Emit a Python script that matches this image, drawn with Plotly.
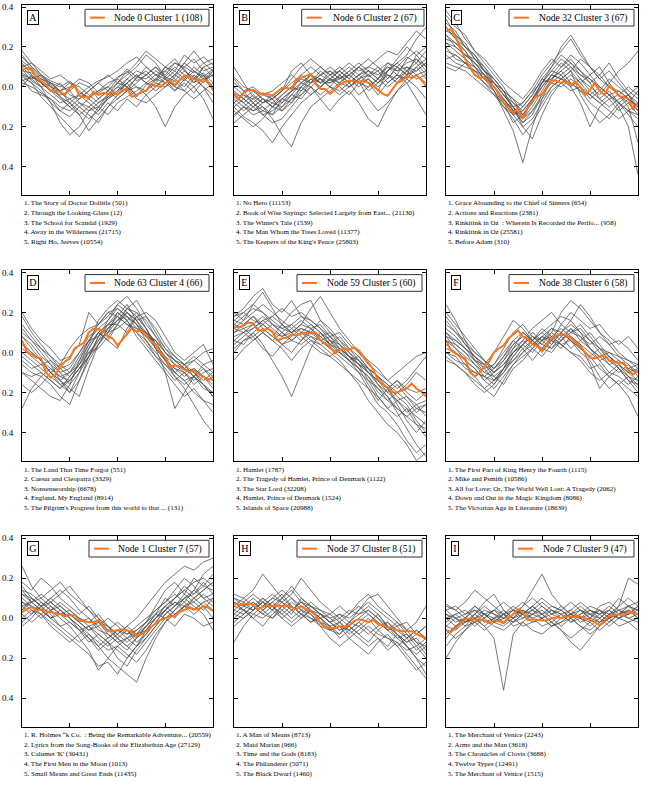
import plotly.graph_objects as go

# ---------------- data ----------------
ORANGE_X = [i * 2.5 for i in range(41)]   # position in text (%)
GRAY_X = [i * 5 for i in range(21)]

LETTERS = ["A", "B", "C", "D", "E", "F", "G", "H", "I"]
NODE_LABELS = ["Node 0 Cluster 1 (108)", "Node 6 Cluster 2 (67)", "Node 32 Cluster 3 (67)",
               "Node 63 Cluster 4 (66)", "Node 59 Cluster 5 (60)", "Node 38 Cluster 6 (58)",
               "Node 1 Cluster 7 (57)", "Node 37 Cluster 8 (51)", "Node 7 Cluster 9 (47)"]

A_TITLES = ["1. The Story of Doctor Dolittle (501)", "2. Through the Looking-Glass (12)",
            "3. The School for Scandal (1929)", "4. Away in the Wilderness (21715)",
            "5. Right Ho, Jeeves (10554)"]
B_TITLES = ["1. No Hero (11153)", "2. Book of Wise Sayings: Selected Largely from East... (21130)",
            "3. The Winter's Tale (1539)", "4. The Man Whom the Trees Loved (11377)",
            "5. The Keepers of the King's Peace (25803)"]
C_TITLES = ["1. Grace Abounding to the Chief of Sinners (654)", "2. Actions and Reactions (2381)",
            "3. Rinkitink in Oz  : Wherein Is Recorded the Perilo... (958)", "4. Rinkitink in Oz (25581)",
            "5. Before Adam (310)"]
D_TITLES = ["1. The Land That Time Forgot (551)", "2. Caesar and Cleopatra (3329)",
            "3. Nonsenseorship (6678)", "4. England, My England (8914)",
            "5. The Pilgrim's Progress from this world to that ... (131)"]
E_TITLES = ["1. Hamlet (1787)", "2. The Tragedy of Hamlet, Prince of Denmark (1122)",
            "3. The Star Lord (32208)", "4. Hamlet, Prince of Denmark (1524)",
            "5. Islands of Space (20988)"]
F_TITLES = ["1. The First Part of King Henry the Fourth (1115)", "2. Mike and Psmith (10586)",
            "3. All for Love; Or, The World Well Lost: A Tragedy (2062)",
            "4. Down and Out in the Magic Kingdom (8086)", "5. The Victorian Age in Literature (18639)"]
G_TITLES = ["1. R. Holmes “k Co.  : Being the Remarkable Adventure... (20559)",
            "2. Lyrics from the Song-Books of the Elizabethan Age (27129)", "3. Calumet 'K' (30431)",
            "4. The First Men in the Moon (1013)", "5. Small Means and Great Ends (11435)"]
H_TITLES = ["1. A Man of Means (8713)", "2. Maid Marian (966)", "3. Time and the Gods (8183)",
            "4. The Philanderer (5071)", "5. The Black Dwarf (1460)"]
I_TITLES = ["1. The Merchant of Venice (2243)", "2. Arms and the Man (3618)",
            "3. The Chronicles of Clovis (3688)", "4. Twelve Types (12491)",
            "5. The Merchant of Venice (1515)"]

A_ORANGE = [0.085, 0.095, 0.09, 0.045, 0.03, 0.01, -0.02, -0.02, -0.025, -0.04, -0.005, 0.01, -0.045, -0.05,
            -0.055, -0.025, -0.04, -0.03, -0.035, -0.025, -0.04, -0.02, -0.01, -0.05, -0.04, -0.025, -0.02,
            0.015, 0.005, 0.0, 0.02, 0.03, 0.01, 0.035, 0.055, 0.05, 0.04, 0.03, 0.04, 0.02, -0.01]
A_GRAY = [
    [0.15, 0.10, 0.05, 0.02, -0.03, -0.06, -0.04, 0.00, 0.03, 0.05, 0.08, 0.12, 0.15, 0.10, 0.06, 0.08, 0.12, 0.10, 0.14, 0.08, 0.10],
    [0.12, 0.06, 0.00, -0.08, -0.18, -0.24, -0.20, -0.12, -0.08, -0.05, 0.00, -0.02, 0.05, 0.04, 0.08, 0.05, 0.10, 0.06, 0.04, 0.07, 0.02],
    [0.05, 0.02, -0.05, -0.10, -0.15, -0.20, -0.25, -0.18, -0.10, -0.06, -0.03, 0.02, -0.05, 0.01, 0.04, 0.02, 0.06, 0.03, 0.08, 0.05, 0.09],
    [0.08, 0.07, 0.04, 0.02, 0.00, 0.03, -0.02, -0.06, -0.10, -0.04, 0.02, 0.06, 0.10, 0.16, 0.12, 0.05, 0.03, 0.08, 0.05, 0.00, -0.04],
    [0.18, 0.12, 0.08, 0.04, 0.06, 0.02, -0.03, -0.05, -0.02, 0.02, 0.04, 0.09, 0.05, 0.08, 0.03, 0.10, 0.08, 0.16, 0.12, 0.15, 0.11],
    [0.02, 0.00, -0.03, -0.06, -0.12, -0.15, -0.10, -0.14, -0.18, -0.10, -0.06, -0.02, 0.00, -0.04, -0.10, -0.20, -0.10, -0.04, 0.00, -0.06, -0.16],
    [0.10, 0.05, 0.03, 0.00, -0.05, -0.08, -0.12, -0.16, -0.12, -0.05, -0.02, 0.04, 0.08, 0.06, 0.02, 0.00, 0.05, 0.10, 0.07, 0.12, 0.08],
    [0.06, 0.04, 0.06, 0.03, 0.01, -0.02, -0.08, -0.12, -0.10, -0.14, -0.08, -0.05, -0.02, 0.02, 0.06, 0.04, -0.02, 0.02, -0.03, 0.03, 0.06],
    [0.13, 0.09, 0.04, 0.01, -0.05, -0.10, -0.14, -0.22, -0.16, -0.10, -0.04, 0.00, -0.06, -0.08, -0.04, 0.00, 0.03, -0.02, 0.04, 0.10, 0.05],
    [0.09, 0.03, 0.00, 0.02, -0.02, 0.00, 0.04, 0.02, -0.03, 0.00, 0.05, 0.07, 0.12, 0.18, 0.14, 0.10, 0.06, 0.12, 0.18, 0.12, 0.14],
    [0.04, -0.02, -0.04, -0.06, -0.10, -0.12, -0.08, -0.10, -0.14, -0.08, -0.12, -0.06, -0.10, -0.04, 0.00, 0.05, 0.00, -0.02, -0.06, -0.02, 0.02],
    [0.11, 0.08, 0.02, -0.02, -0.04, -0.02, 0.02, 0.00, -0.06, -0.02, 0.02, 0.08, 0.03, 0.06, 0.10, 0.06, 0.12, 0.09, 0.02, 0.06, 0.00],
    [0.07, 0.04, 0.00, -0.04, -0.08, -0.06, -0.10, -0.06, -0.02, 0.00, -0.04, 0.02, 0.06, 0.02, 0.00, 0.04, 0.08, 0.04, 0.00, 0.04, 0.06],
    [0.00, 0.06, 0.02, -0.02, 0.02, -0.04, -0.06, -0.02, 0.02, 0.06, 0.02, 0.00, 0.04, 0.10, 0.06, 0.02, -0.02, 0.04, 0.10, 0.06, -0.02],
    [0.16, 0.10, 0.06, 0.00, -0.02, -0.08, -0.14, -0.10, -0.06, -0.02, 0.04, 0.00, -0.04, -0.02, 0.02, 0.08, 0.04, 0.00, 0.06, 0.02, 0.08],
    [0.03, 0.05, 0.02, -0.02, -0.06, -0.10, -0.06, -0.02, 0.02, -0.02, -0.06, -0.02, 0.02, 0.06, 0.10, 0.04, 0.00, 0.06, 0.02, 0.10, 0.12],
    [0.10, 0.12, 0.06, 0.02, -0.02, 0.02, 0.00, -0.04, -0.08, -0.04, 0.00, 0.04, 0.00, -0.02, 0.04, 0.10, 0.14, 0.08, 0.04, 0.00, -0.08],
    [0.06, 0.02, -0.02, -0.08, -0.12, -0.08, -0.04, -0.08, -0.12, -0.06, -0.02, 0.02, 0.06, 0.02, -0.02, 0.02, 0.06, 0.12, 0.08, 0.04, 0.08],
]

B_ORANGE = [-0.035, -0.06, -0.03, -0.015, -0.015, -0.03, -0.035, -0.035, -0.045, -0.025, -0.005, -0.005, -0.01,
            0.035, 0.045, 0.055, 0.065, 0.015, -0.01, -0.01, -0.035, -0.015, 0.01, 0.025, 0.03, 0.03, 0.02, 0.03,
            0.02, 0.005, -0.015, -0.035, -0.045, -0.01, 0.02, 0.03, 0.055, 0.045, 0.06, 0.035, 0.005]
B_GRAY = [
    [0.10, 0.02, -0.05, -0.08, -0.06, -0.02, 0.04, 0.10, 0.14, 0.10, 0.06, 0.08, 0.12, 0.08, 0.10, 0.14, 0.18, 0.16, 0.22, 0.28, 0.24],
    [-0.10, -0.15, -0.18, -0.22, -0.28, -0.20, -0.14, -0.08, -0.04, 0.00, 0.04, 0.02, 0.06, 0.10, 0.05, 0.08, 0.12, 0.10, 0.15, 0.12, 0.18],
    [-0.05, -0.08, -0.12, -0.10, -0.16, -0.24, -0.30, -0.18, -0.10, -0.06, -0.02, 0.02, 0.00, 0.04, -0.02, 0.02, 0.06, 0.04, 0.10, 0.08, 0.12],
    [-0.18, -0.14, -0.10, -0.06, -0.08, -0.04, 0.00, 0.04, 0.02, 0.06, 0.03, 0.05, 0.00, 0.03, -0.06, -0.12, -0.08, -0.02, 0.04, 0.00, -0.06],
    [0.00, -0.04, -0.06, -0.03, -0.06, -0.02, 0.08, 0.12, 0.06, 0.02, 0.06, 0.10, 0.06, 0.02, 0.04, -0.02, 0.08, 0.14, 0.20, 0.16, 0.10],
    [-0.08, -0.12, -0.08, -0.14, -0.12, -0.08, -0.04, -0.06, 0.00, -0.06, -0.12, -0.06, -0.02, -0.08, -0.16, -0.20, -0.10, -0.02, 0.02, -0.06, -0.14],
    [-0.12, -0.16, -0.20, -0.16, -0.10, -0.06, -0.02, 0.02, 0.06, 0.04, 0.02, 0.06, 0.10, 0.06, 0.08, 0.06, 0.10, 0.08, 0.12, 0.14, 0.10],
    [0.05, 0.00, -0.02, -0.06, -0.10, -0.12, -0.06, 0.00, -0.04, 0.00, 0.04, 0.08, 0.04, 0.10, 0.14, 0.10, 0.04, 0.10, 0.06, 0.10, 0.04],
    [-0.03, -0.06, -0.10, -0.14, -0.18, -0.16, -0.10, -0.04, 0.02, 0.08, 0.04, 0.00, -0.04, 0.02, 0.06, 0.02, 0.08, 0.12, 0.16, 0.24, 0.30],
    [-0.15, -0.10, -0.12, -0.08, -0.04, -0.08, -0.02, 0.00, 0.04, 0.02, 0.08, 0.04, 0.08, 0.12, 0.08, 0.04, 0.00, 0.04, 0.08, 0.04, 0.06],
    [-0.06, -0.10, -0.06, -0.10, -0.14, -0.10, -0.04, 0.02, 0.00, -0.04, 0.00, -0.02, 0.02, -0.04, 0.00, 0.04, 0.10, 0.06, 0.02, 0.06, 0.08],
    [0.02, -0.02, -0.08, -0.12, -0.14, -0.06, -0.02, 0.06, 0.10, 0.06, 0.10, 0.06, 0.02, 0.06, 0.10, 0.08, 0.02, 0.06, 0.14, 0.18, 0.14],
    [-0.04, -0.08, -0.04, -0.08, -0.06, -0.02, 0.02, 0.06, 0.02, 0.06, 0.08, 0.04, 0.06, 0.02, 0.00, 0.04, 0.08, 0.12, 0.08, 0.12, 0.06],
    [-0.10, -0.06, -0.10, -0.06, -0.10, -0.04, 0.00, -0.02, 0.04, 0.00, 0.04, 0.08, 0.04, 0.00, 0.04, 0.00, 0.04, 0.10, 0.06, 0.08, 0.12],
    [0.04, -0.02, 0.00, -0.04, -0.02, 0.02, 0.06, 0.02, 0.06, 0.10, 0.06, 0.02, 0.06, 0.10, 0.06, 0.02, 0.06, 0.02, 0.08, 0.14, 0.08],
    [-0.14, -0.10, -0.14, -0.12, -0.08, -0.10, -0.06, -0.04, 0.00, 0.04, 0.00, 0.06, 0.02, 0.06, 0.02, -0.04, 0.02, 0.06, 0.04, 0.10, 0.14],
    [-0.02, -0.06, -0.02, -0.06, -0.10, -0.06, -0.08, 0.00, 0.06, 0.02, 0.02, 0.04, 0.08, 0.04, 0.08, 0.04, 0.12, 0.08, 0.10, 0.06, 0.02],
    [-0.08, -0.04, -0.08, -0.04, -0.06, -0.12, -0.08, -0.02, 0.02, 0.04, 0.00, -0.04, 0.00, 0.04, 0.06, 0.10, 0.06, 0.02, 0.06, 0.16, 0.20],
]

C_ORANGE = [0.28, 0.29, 0.25, 0.19, 0.14, 0.10, 0.06, 0.045, 0.05, 0.02, 0.0, -0.03, -0.075, -0.105, -0.13, -0.11,
            -0.16, -0.11, -0.07, -0.045, -0.04, 0.0, 0.035, 0.03, 0.02, 0.03, 0.01, 0.025, 0.0, -0.04, -0.015, 0.02,
            -0.02, -0.04, 0.005, -0.015, -0.045, -0.05, -0.06, -0.115, -0.08]
C_GRAY = [
    [0.36, 0.30, 0.26, 0.18, 0.12, 0.06, 0.00, -0.08, -0.14, -0.06, 0.02, 0.10, 0.16, 0.12, 0.08, 0.04, 0.00, -0.04, -0.08, -0.04, -0.10],
    [0.22, 0.18, 0.14, 0.10, 0.04, -0.02, -0.12, -0.22, -0.38, -0.20, -0.06, 0.04, 0.10, 0.14, 0.08, 0.02, -0.06, -0.02, -0.08, -0.12, -0.16],
    [0.30, 0.24, 0.20, 0.14, 0.10, 0.02, -0.04, -0.10, -0.18, -0.12, -0.04, 0.04, 0.08, 0.02, -0.02, -0.08, -0.12, -0.16, -0.10, -0.20, -0.44],
    [0.16, 0.12, 0.10, 0.08, 0.06, 0.00, -0.06, -0.12, -0.08, -0.02, 0.06, 0.12, 0.18, 0.24, 0.16, 0.10, 0.04, 0.00, -0.02, -0.06, -0.12],
    [0.26, 0.20, 0.16, 0.12, 0.06, -0.02, -0.10, -0.14, -0.20, -0.16, -0.08, 0.00, 0.04, 0.08, -0.04, -0.12, -0.18, -0.14, -0.08, -0.14, -0.20],
    [0.38, 0.32, 0.24, 0.18, 0.14, 0.08, 0.02, -0.02, -0.06, 0.00, 0.08, 0.14, 0.10, 0.16, 0.12, 0.06, 0.10, 0.02, 0.08, 0.12, 0.18],
    [0.12, 0.10, 0.08, 0.04, 0.00, -0.04, -0.10, -0.16, -0.24, -0.18, -0.10, -0.02, 0.02, 0.06, 0.02, -0.04, -0.08, -0.12, -0.16, -0.12, -0.08],
    [0.24, 0.22, 0.16, 0.14, 0.08, 0.04, -0.02, -0.06, -0.10, -0.04, 0.04, 0.10, 0.20, 0.26, 0.18, 0.10, 0.04, 0.08, 0.02, -0.04, 0.00],
    [0.20, 0.14, 0.12, 0.06, 0.02, -0.04, -0.08, -0.18, -0.14, -0.08, 0.00, 0.06, 0.04, 0.00, -0.08, -0.20, -0.10, -0.06, -0.12, -0.08, -0.14],
    [0.32, 0.28, 0.20, 0.16, 0.10, 0.04, -0.02, -0.12, -0.16, -0.10, -0.02, 0.06, 0.12, 0.08, 0.14, 0.10, 0.06, 0.12, 0.04, -0.02, -0.06],
    [0.10, 0.08, 0.12, 0.10, 0.04, 0.00, -0.08, -0.10, -0.20, -0.26, -0.14, -0.04, 0.02, -0.02, 0.00, -0.06, -0.02, -0.06, -0.04, -0.10, -0.28],
    [0.28, 0.26, 0.22, 0.14, 0.08, 0.00, -0.06, -0.14, -0.12, -0.06, 0.02, 0.08, 0.06, 0.10, 0.04, 0.00, -0.04, 0.02, -0.04, -0.08, -0.02],
    [0.26, 0.22, 0.18, 0.10, 0.06, 0.02, -0.04, -0.08, -0.12, -0.06, 0.00, 0.06, 0.04, 0.08, 0.02, 0.06, 0.00, -0.04, -0.02, -0.06, -0.10],
    [0.18, 0.16, 0.12, 0.08, 0.02, -0.02, -0.08, -0.14, -0.10, -0.04, 0.04, 0.02, 0.06, 0.00, 0.04, -0.02, -0.06, -0.10, -0.06, -0.04, -0.08],
    [0.34, 0.26, 0.20, 0.16, 0.08, 0.04, -0.02, -0.06, -0.14, -0.08, 0.02, 0.08, 0.14, 0.10, 0.06, 0.02, 0.06, 0.00, -0.04, 0.00, -0.04],
    [0.14, 0.16, 0.12, 0.08, 0.04, 0.02, -0.04, -0.10, -0.16, -0.12, -0.06, 0.00, 0.04, 0.02, -0.02, -0.04, 0.00, -0.04, -0.08, -0.12, -0.14],
    [0.22, 0.20, 0.16, 0.12, 0.08, 0.02, -0.02, -0.10, -0.08, -0.02, 0.02, 0.04, 0.08, 0.12, 0.06, 0.04, -0.02, 0.04, 0.00, -0.04, -0.12],
    [0.30, 0.24, 0.18, 0.12, 0.06, 0.00, -0.06, -0.12, -0.18, -0.14, -0.04, 0.02, 0.00, 0.04, 0.00, -0.04, -0.08, -0.04, -0.10, -0.06, -0.10],
]

D_ORANGE = [0.06, 0.005, -0.01, -0.025, -0.03, -0.10, -0.125, -0.11, -0.07, -0.045, -0.03, 0.02, 0.035, 0.05, 0.10,
            0.12, 0.115, 0.11, 0.08, 0.07, 0.035, 0.065, 0.09, 0.12, 0.105, 0.11, 0.085, 0.055, 0.04, 0.0, -0.025,
            -0.07, -0.065, -0.07, -0.085, -0.095, -0.09, -0.11, -0.12, -0.14, -0.12]
D_GRAY = [
    [0.18, 0.10, 0.04, -0.02, -0.08, -0.12, -0.06, 0.04, 0.16, 0.22, 0.26, 0.22, 0.20, 0.12, 0.04, -0.04, -0.10, -0.14, -0.20, -0.24, -0.30],
    [-0.10, -0.14, -0.18, -0.22, -0.24, -0.16, -0.04, 0.06, 0.14, 0.20, 0.18, 0.24, 0.16, 0.10, 0.02, -0.10, -0.28, -0.20, -0.12, -0.06, -0.04],
    [0.10, 0.06, 0.00, -0.06, -0.14, -0.20, -0.14, -0.02, 0.08, 0.16, 0.24, 0.28, 0.22, 0.14, 0.08, 0.00, -0.06, -0.08, -0.04, 0.00, 0.02],
    [-0.02, -0.06, -0.10, -0.14, -0.18, -0.12, -0.06, 0.02, 0.10, 0.06, 0.14, 0.20, 0.14, 0.06, -0.02, -0.06, -0.12, -0.18, -0.26, -0.34, -0.40],
    [0.05, 0.00, -0.04, -0.10, -0.06, 0.02, 0.08, 0.12, 0.14, 0.20, 0.22, 0.18, 0.12, 0.10, 0.06, 0.00, -0.04, -0.08, -0.10, -0.16, -0.20],
    [-0.28, -0.18, -0.12, -0.16, -0.22, -0.26, -0.14, -0.04, 0.04, 0.12, 0.18, 0.14, 0.10, 0.04, -0.02, -0.08, -0.14, -0.10, -0.16, -0.12, -0.18],
    [0.14, 0.08, 0.02, -0.04, -0.10, -0.08, 0.00, 0.08, 0.12, 0.10, 0.16, 0.22, 0.26, 0.18, 0.12, 0.04, -0.02, -0.06, -0.12, -0.08, -0.14],
    [0.00, -0.04, -0.08, -0.12, -0.16, -0.20, -0.10, -0.02, 0.06, 0.14, 0.20, 0.16, 0.08, 0.02, -0.04, -0.10, -0.16, -0.22, -0.18, -0.24, -0.26],
    [0.20, 0.12, 0.06, 0.02, -0.04, -0.02, 0.04, 0.20, 0.14, 0.18, 0.24, 0.20, 0.16, 0.18, 0.10, 0.02, -0.02, -0.06, -0.02, -0.06, -0.10],
    [-0.06, -0.10, -0.12, -0.08, -0.12, -0.14, -0.08, 0.00, 0.02, 0.08, 0.14, 0.10, 0.18, 0.12, 0.04, -0.02, -0.10, -0.14, -0.12, -0.16, -0.22],
    [0.08, 0.04, -0.02, -0.06, -0.10, -0.16, -0.10, 0.02, 0.10, 0.06, 0.02, 0.12, 0.18, 0.20, 0.16, 0.08, 0.00, -0.04, 0.00, 0.04, -0.06],
    [-0.16, -0.20, -0.16, -0.10, -0.14, -0.18, -0.22, -0.08, 0.04, 0.12, 0.16, 0.20, 0.16, 0.08, 0.06, -0.04, -0.08, -0.12, -0.08, -0.12, -0.16],
    [0.04, 0.00, -0.04, -0.08, -0.12, -0.10, -0.04, 0.04, 0.10, 0.14, 0.18, 0.14, 0.12, 0.08, 0.02, -0.04, -0.08, -0.10, -0.08, -0.12, -0.14],
    [-0.04, -0.08, -0.06, -0.10, -0.14, -0.10, -0.02, 0.06, 0.08, 0.12, 0.16, 0.18, 0.14, 0.10, 0.04, -0.02, -0.06, -0.10, -0.14, -0.10, -0.08],
    [0.12, 0.06, 0.02, -0.02, -0.06, -0.10, -0.06, 0.00, 0.06, 0.10, 0.20, 0.16, 0.10, 0.06, 0.00, -0.06, -0.10, -0.06, -0.10, -0.14, -0.10],
    [-0.10, -0.12, -0.10, -0.14, -0.18, -0.14, -0.08, -0.02, 0.04, 0.10, 0.12, 0.16, 0.20, 0.16, 0.08, 0.02, -0.04, -0.08, -0.12, -0.18, -0.20],
    [0.02, -0.02, -0.06, -0.04, -0.08, -0.06, 0.00, 0.06, 0.12, 0.16, 0.22, 0.18, 0.14, 0.08, 0.06, 0.00, -0.04, -0.06, -0.04, -0.08, -0.12],
    [0.08, 0.02, -0.04, -0.10, -0.16, -0.14, -0.08, -0.02, 0.08, 0.14, 0.14, 0.22, 0.18, 0.12, 0.02, -0.04, -0.12, -0.16, -0.12, -0.16, -0.22],
]

E_ORANGE = [0.13, 0.125, 0.135, 0.15, 0.145, 0.11, 0.11, 0.12, 0.105, 0.06, 0.07, 0.075, 0.09, 0.085, 0.095, 0.10,
            0.095, 0.10, 0.06, 0.045, 0.03, -0.005, 0.01, 0.02, 0.015, 0.025, 0.01, -0.02, -0.055, -0.085, -0.135,
            -0.16, -0.175, -0.20, -0.20, -0.19, -0.18, -0.155, -0.18, -0.195, -0.22]
E_GRAY = [
    [0.18, 0.22, 0.28, 0.32, 0.24, 0.20, 0.26, 0.18, 0.14, 0.10, 0.04, 0.00, -0.04, -0.10, -0.18, -0.26, -0.30, -0.36, -0.44, -0.50, -0.46],
    [0.00, 0.06, 0.10, 0.04, -0.04, -0.12, -0.22, -0.10, 0.02, 0.10, 0.06, 0.04, -0.02, -0.06, -0.10, -0.14, -0.18, -0.24, -0.28, -0.32, -0.36],
    [0.14, 0.18, 0.22, 0.20, 0.16, 0.12, 0.10, 0.14, 0.22, 0.28, 0.20, 0.12, 0.06, 0.00, -0.06, -0.10, -0.14, -0.10, -0.06, -0.02, 0.00],
    [0.08, 0.10, 0.06, 0.10, 0.14, 0.10, 0.06, 0.10, 0.08, 0.04, 0.00, -0.04, -0.10, -0.16, -0.24, -0.30, -0.36, -0.40, -0.46, -0.54, -0.50],
    [0.20, 0.16, 0.20, 0.24, 0.20, 0.16, 0.12, 0.16, 0.12, 0.08, 0.04, 0.08, 0.02, -0.02, -0.08, -0.12, -0.16, -0.20, -0.24, -0.30, -0.26],
    [0.04, 0.08, 0.12, 0.16, 0.12, 0.08, 0.12, 0.08, 0.04, 0.00, -0.02, 0.02, -0.04, -0.08, -0.12, -0.20, -0.24, -0.20, -0.16, -0.10, -0.14],
    [0.16, 0.14, 0.18, 0.12, 0.08, 0.14, 0.20, 0.24, 0.26, 0.16, 0.10, 0.04, 0.00, -0.06, -0.14, -0.22, -0.28, -0.32, -0.28, -0.36, -0.42],
    [0.10, 0.12, 0.08, 0.02, -0.02, 0.04, 0.08, 0.12, 0.10, 0.06, 0.08, 0.04, -0.02, -0.08, -0.16, -0.24, -0.18, -0.14, -0.20, -0.24, -0.20],
    [0.12, 0.16, 0.24, 0.30, 0.22, 0.14, 0.10, 0.06, 0.10, 0.16, 0.12, 0.06, 0.02, -0.04, -0.08, -0.12, -0.18, -0.26, -0.34, -0.40, -0.34],
    [-0.04, 0.02, 0.06, 0.10, 0.06, 0.02, -0.04, 0.02, 0.06, 0.02, -0.02, -0.06, -0.10, -0.14, -0.18, -0.22, -0.28, -0.24, -0.30, -0.26, -0.32],
    [0.16, 0.20, 0.16, 0.14, 0.18, 0.22, 0.18, 0.20, 0.16, 0.12, 0.06, 0.00, -0.04, -0.02, -0.08, -0.16, -0.22, -0.30, -0.38, -0.46, -0.52],
    [0.06, 0.04, 0.10, 0.14, 0.10, 0.04, 0.00, 0.06, 0.12, 0.14, 0.08, 0.10, 0.04, 0.00, -0.04, -0.08, -0.14, -0.18, -0.14, -0.08, -0.02],
    [0.10, 0.14, 0.18, 0.14, 0.10, 0.08, 0.10, 0.14, 0.12, 0.06, 0.02, 0.00, -0.04, -0.08, -0.12, -0.18, -0.22, -0.28, -0.32, -0.36, -0.38],
    [0.14, 0.12, 0.14, 0.18, 0.14, 0.10, 0.06, 0.10, 0.14, 0.10, 0.04, 0.02, -0.02, -0.06, -0.10, -0.14, -0.20, -0.24, -0.22, -0.28, -0.30],
    [0.06, 0.10, 0.14, 0.10, 0.06, 0.10, 0.14, 0.10, 0.06, 0.04, 0.06, 0.02, -0.02, -0.04, -0.10, -0.16, -0.20, -0.16, -0.22, -0.26, -0.24],
    [0.18, 0.20, 0.24, 0.20, 0.14, 0.12, 0.14, 0.18, 0.16, 0.12, 0.08, 0.02, -0.02, -0.06, -0.08, -0.12, -0.16, -0.22, -0.26, -0.34, -0.40],
    [0.02, 0.06, 0.08, 0.12, 0.08, 0.04, 0.06, 0.04, 0.08, 0.06, 0.02, -0.02, -0.06, -0.10, -0.14, -0.18, -0.24, -0.28, -0.32, -0.28, -0.26],
    [0.12, 0.10, 0.12, 0.16, 0.18, 0.14, 0.10, 0.12, 0.10, 0.08, 0.10, 0.06, 0.00, -0.04, -0.10, -0.14, -0.18, -0.14, -0.18, -0.20, -0.18],
]

F_ORANGE = [0.06, 0.01, -0.005, -0.02, -0.03, -0.10, -0.12, -0.10, -0.07, -0.045, 0.0, 0.02, 0.035, 0.07, 0.09, 0.11,
            0.08, 0.07, 0.04, 0.035, 0.01, 0.04, 0.07, 0.085, 0.09, 0.085, 0.075, 0.05, 0.03, 0.0, -0.025, -0.03,
            -0.02, -0.015, -0.04, -0.045, -0.055, -0.05, -0.09, -0.11, -0.09]
F_GRAY = [
    [0.24, 0.16, 0.06, -0.04, -0.10, -0.06, 0.02, 0.10, 0.14, 0.08, 0.04, 0.10, 0.20, 0.26, 0.22, 0.16, 0.10, 0.04, -0.02, -0.06, -0.10],
    [0.04, 0.00, -0.06, -0.12, -0.18, -0.22, -0.14, -0.06, 0.00, 0.04, 0.08, 0.06, 0.02, 0.08, 0.04, -0.06, -0.18, -0.12, -0.16, -0.22, -0.32],
    [0.12, 0.08, 0.02, -0.04, -0.08, -0.14, -0.08, 0.00, 0.06, 0.12, 0.16, 0.20, 0.14, 0.10, 0.14, 0.08, 0.02, -0.04, -0.08, -0.12, -0.16],
    [-0.04, -0.06, -0.10, -0.14, -0.18, -0.14, -0.10, -0.02, 0.04, 0.00, 0.06, 0.02, 0.08, 0.12, 0.06, 0.02, -0.04, -0.10, -0.06, -0.10, -0.14],
    [0.18, 0.12, 0.04, -0.02, -0.06, 0.00, 0.08, 0.16, 0.12, 0.06, 0.00, 0.06, 0.14, 0.20, 0.16, 0.12, 0.14, 0.08, 0.04, 0.08, 0.02],
    [0.08, 0.02, -0.04, -0.08, -0.14, -0.18, -0.12, -0.06, -0.02, 0.02, -0.02, 0.04, 0.10, 0.06, 0.00, -0.04, -0.12, -0.18, -0.14, -0.18, -0.22],
    [0.00, -0.02, -0.08, -0.10, -0.12, -0.08, -0.02, 0.04, 0.08, 0.06, 0.10, 0.14, 0.18, 0.16, 0.10, 0.02, -0.02, 0.00, -0.04, -0.08, -0.06],
    [0.14, 0.10, 0.04, 0.00, -0.04, -0.10, -0.06, 0.00, 0.04, 0.10, 0.06, 0.12, 0.08, 0.02, 0.06, 0.10, 0.04, -0.02, -0.08, -0.14, -0.20],
    [-0.02, -0.06, -0.10, -0.16, -0.20, -0.16, -0.08, 0.02, 0.10, 0.06, 0.02, 0.08, 0.04, 0.00, -0.02, -0.08, -0.06, -0.12, -0.16, -0.12, -0.18],
    [0.10, 0.06, 0.02, -0.02, -0.06, -0.12, -0.16, -0.08, -0.04, 0.02, 0.08, 0.04, 0.10, 0.16, 0.24, 0.18, 0.10, 0.06, 0.00, -0.04, -0.08],
    [0.20, 0.14, 0.08, 0.02, -0.04, -0.08, -0.02, 0.06, 0.02, -0.04, 0.02, 0.00, 0.06, 0.12, 0.08, 0.04, 0.08, 0.04, 0.06, 0.02, -0.04],
    [0.06, 0.04, 0.00, -0.06, -0.12, -0.16, -0.10, -0.04, 0.00, 0.06, 0.12, 0.08, 0.04, 0.00, -0.04, -0.10, -0.14, -0.10, -0.12, -0.16, -0.12],
    [0.06, 0.02, -0.02, -0.06, -0.10, -0.12, -0.08, -0.02, 0.04, 0.08, 0.06, 0.10, 0.06, 0.10, 0.08, 0.02, -0.02, -0.06, -0.04, -0.08, -0.10],
    [0.10, 0.04, 0.00, -0.04, -0.06, -0.10, -0.04, 0.02, 0.06, 0.02, 0.06, 0.08, 0.12, 0.08, 0.04, 0.00, -0.04, -0.02, -0.06, -0.10, -0.08],
    [0.02, 0.00, -0.04, -0.08, -0.14, -0.10, -0.06, 0.00, 0.04, 0.08, 0.04, 0.02, 0.06, 0.10, 0.12, 0.06, 0.00, -0.06, -0.10, -0.06, -0.12],
    [0.16, 0.10, 0.06, 0.00, -0.04, -0.08, -0.04, 0.04, 0.08, 0.04, 0.08, 0.12, 0.10, 0.06, 0.02, -0.02, 0.02, -0.02, -0.06, -0.12, -0.14],
    [0.00, -0.04, -0.06, -0.10, -0.12, -0.14, -0.08, -0.04, 0.02, 0.06, 0.10, 0.06, 0.04, 0.06, 0.02, -0.02, -0.08, -0.12, -0.08, -0.14, -0.16],
    [0.08, 0.06, 0.02, -0.02, -0.08, -0.06, 0.00, 0.06, 0.10, 0.06, 0.02, 0.06, 0.10, 0.14, 0.10, 0.06, 0.02, 0.00, -0.02, -0.04, -0.06],
]

G_ORANGE = [0.03, 0.045, 0.055, 0.04, 0.045, 0.035, 0.03, 0.025, 0.02, 0.01, 0.015, 0.015, -0.01, -0.015, -0.02,
            -0.02, -0.01, -0.04, -0.065, -0.065, -0.06, -0.055, -0.06, -0.07, -0.088, -0.08, -0.065, -0.045, -0.025,
            -0.01, 0.0, 0.01, 0.01, 0.03, 0.04, 0.055, 0.045, 0.045, 0.06, 0.055, 0.035]
G_GRAY = [
    [0.26, 0.16, 0.10, 0.14, 0.18, 0.12, 0.08, 0.04, 0.00, -0.04, -0.08, -0.04, 0.00, 0.06, 0.12, 0.18, 0.22, 0.26, 0.24, 0.28, 0.30],
    [0.10, 0.06, 0.02, -0.02, -0.06, -0.10, -0.14, -0.18, -0.24, -0.22, -0.28, -0.20, -0.14, -0.06, 0.00, 0.06, 0.10, 0.14, 0.18, 0.20, 0.16],
    [-0.04, 0.00, 0.06, 0.02, -0.04, -0.08, -0.12, -0.08, -0.14, -0.20, -0.24, -0.28, -0.32, -0.20, -0.10, -0.02, 0.04, 0.10, 0.06, 0.02, -0.06],
    [0.14, 0.12, 0.08, 0.04, 0.06, 0.02, -0.02, -0.06, -0.04, -0.10, -0.06, -0.10, -0.08, -0.02, 0.06, 0.14, 0.18, 0.12, 0.08, 0.12, 0.08],
    [0.06, 0.08, 0.12, 0.08, 0.04, 0.00, -0.06, -0.10, -0.16, -0.12, -0.16, -0.20, -0.14, -0.08, -0.02, 0.04, 0.08, 0.04, 0.10, 0.14, 0.18],
    [0.18, 0.14, 0.20, 0.16, 0.10, 0.06, 0.02, 0.06, 0.00, -0.06, -0.02, -0.06, -0.10, -0.04, 0.02, 0.10, 0.06, 0.12, 0.20, 0.16, 0.22],
    [0.02, -0.02, 0.02, -0.04, -0.08, -0.12, -0.08, -0.04, -0.10, -0.14, -0.10, -0.14, -0.18, -0.12, -0.06, 0.00, -0.04, 0.02, 0.00, -0.04, -0.02],
    [0.12, 0.08, 0.04, 0.08, 0.12, 0.16, 0.10, 0.04, -0.02, -0.08, -0.12, -0.16, -0.10, -0.06, 0.00, 0.04, 0.10, 0.16, 0.12, 0.18, 0.12],
    [0.08, 0.04, 0.00, 0.04, 0.00, -0.04, -0.10, -0.16, -0.26, -0.20, -0.14, -0.18, -0.22, -0.16, -0.08, -0.02, 0.02, 0.06, 0.04, 0.08, 0.10],
    [0.04, 0.10, 0.06, 0.10, 0.14, 0.10, 0.04, 0.00, -0.04, 0.00, -0.04, -0.08, -0.04, 0.00, 0.04, 0.08, 0.14, 0.20, 0.16, 0.10, 0.06],
    [0.16, 0.10, 0.06, 0.00, -0.04, -0.02, -0.06, -0.12, -0.08, -0.12, -0.20, -0.24, -0.16, -0.10, -0.04, 0.02, 0.06, 0.10, 0.14, 0.22, 0.26],
    [-0.02, 0.02, 0.08, 0.04, 0.08, 0.04, 0.00, -0.02, 0.02, -0.04, -0.10, -0.06, -0.12, -0.08, -0.02, 0.04, 0.00, 0.06, 0.02, 0.06, 0.00],
    [0.08, 0.06, 0.04, 0.00, 0.02, -0.02, -0.06, -0.04, -0.08, -0.12, -0.08, -0.12, -0.08, -0.04, 0.00, 0.04, 0.08, 0.06, 0.10, 0.06, 0.04],
    [0.12, 0.10, 0.06, 0.08, 0.04, 0.00, -0.04, -0.08, -0.12, -0.16, -0.14, -0.10, -0.06, -0.02, 0.04, 0.08, 0.12, 0.08, 0.14, 0.10, 0.12],
    [0.00, 0.04, 0.02, 0.06, 0.02, 0.02, -0.02, -0.06, -0.02, -0.06, -0.10, -0.14, -0.10, -0.04, 0.02, 0.00, 0.04, 0.08, 0.04, 0.08, 0.04],
    [0.06, 0.02, 0.06, 0.10, 0.06, 0.02, -0.02, 0.00, -0.06, -0.08, -0.12, -0.10, -0.14, -0.10, -0.04, 0.02, 0.06, 0.10, 0.12, 0.16, 0.14],
    [0.14, 0.08, 0.04, 0.00, 0.04, 0.00, -0.04, -0.10, -0.14, -0.10, -0.06, -0.08, -0.06, -0.02, 0.02, 0.06, 0.02, 0.06, 0.08, 0.04, 0.10],
    [0.04, 0.08, 0.10, 0.06, 0.02, 0.04, 0.00, -0.04, -0.02, -0.04, -0.08, -0.04, -0.08, -0.06, 0.00, 0.06, 0.10, 0.14, 0.10, 0.14, 0.18],
]

H_ORANGE = [0.075, 0.065, 0.07, 0.075, 0.065, 0.045, 0.055, 0.065, 0.06, 0.065, 0.06, 0.065, 0.055, 0.045, 0.06,
            0.045, 0.035, 0.015, -0.025, -0.045, -0.048, -0.05, -0.04, -0.045, -0.035, -0.015, -0.005, -0.01, -0.02,
            -0.01, -0.03, -0.035, -0.045, -0.05, -0.06, -0.065, -0.065, -0.065, -0.08, -0.09, -0.105]
H_GRAY = [
    [0.12, 0.10, 0.14, 0.22, 0.16, 0.10, 0.14, 0.08, 0.06, 0.02, -0.02, 0.00, 0.04, 0.02, 0.06, 0.02, -0.04, -0.08, -0.14, -0.20, -0.28],
    [-0.12, -0.04, 0.02, 0.06, 0.10, 0.08, 0.12, 0.20, 0.14, 0.08, 0.04, 0.00, -0.04, -0.08, -0.12, -0.06, -0.10, -0.12, -0.16, -0.14, -0.20],
    [0.08, 0.04, 0.00, 0.04, 0.08, 0.12, 0.06, 0.02, -0.02, 0.02, -0.02, -0.06, -0.02, 0.04, 0.10, 0.12, 0.06, 0.00, -0.06, -0.12, -0.18],
    [0.04, 0.08, 0.12, 0.08, 0.04, 0.00, 0.04, 0.08, 0.04, 0.00, -0.04, -0.10, -0.06, -0.10, -0.14, -0.10, -0.16, -0.12, -0.18, -0.24, -0.30],
    [0.10, 0.06, 0.08, 0.04, 0.00, 0.06, 0.10, 0.06, 0.02, -0.04, -0.06, -0.02, -0.08, -0.04, 0.00, -0.06, -0.02, -0.06, -0.10, -0.06, -0.10],
    [0.00, 0.04, 0.00, -0.04, 0.02, 0.06, 0.02, 0.10, 0.06, 0.02, 0.00, -0.04, -0.10, -0.06, -0.02, 0.02, -0.04, -0.10, -0.14, -0.18, -0.14],
    [0.06, 0.10, 0.06, 0.02, 0.06, 0.10, 0.16, 0.10, 0.06, 0.04, 0.02, 0.06, 0.02, 0.08, 0.12, 0.06, 0.02, -0.02, -0.06, -0.02, 0.06],
    [-0.04, 0.00, 0.04, 0.08, 0.06, 0.02, -0.02, 0.02, 0.00, -0.04, -0.10, -0.14, -0.10, -0.14, -0.18, -0.12, -0.08, -0.14, -0.20, -0.26, -0.22],
    [0.08, 0.06, 0.10, 0.06, 0.10, 0.14, 0.10, 0.04, 0.08, 0.04, 0.00, 0.02, -0.02, 0.02, 0.04, 0.00, -0.06, -0.02, -0.08, -0.14, -0.10],
    [0.02, 0.00, 0.04, 0.10, 0.06, 0.00, -0.04, 0.00, 0.04, 0.00, -0.06, -0.04, -0.06, -0.02, -0.06, -0.10, -0.14, -0.08, -0.12, -0.08, -0.04],
    [0.06, 0.04, 0.08, 0.04, 0.08, 0.04, 0.08, 0.04, 0.02, -0.02, -0.04, -0.02, -0.06, -0.02, 0.02, -0.02, -0.06, -0.10, -0.08, -0.12, -0.14],
    [0.02, 0.06, 0.04, 0.08, 0.04, 0.08, 0.04, 0.00, 0.04, 0.02, -0.02, -0.06, -0.04, 0.00, 0.04, 0.00, -0.04, -0.08, -0.12, -0.10, -0.16],
    [0.10, 0.08, 0.04, 0.08, 0.12, 0.08, 0.04, 0.08, 0.04, 0.00, 0.02, -0.02, 0.02, 0.06, 0.02, -0.02, -0.06, -0.04, -0.10, -0.16, -0.12],
    [-0.02, 0.02, 0.06, 0.02, 0.00, 0.04, 0.00, 0.04, 0.00, -0.02, -0.06, -0.08, -0.04, -0.08, -0.04, -0.08, -0.10, -0.14, -0.10, -0.06, -0.10],
    [0.04, 0.02, 0.06, 0.10, 0.06, 0.02, 0.06, 0.02, 0.06, 0.02, -0.02, 0.02, 0.00, 0.04, 0.08, 0.04, 0.00, -0.04, -0.02, -0.08, -0.04],
    [0.08, 0.04, 0.02, 0.00, 0.04, 0.10, 0.06, 0.02, -0.02, 0.00, -0.04, -0.08, -0.02, -0.04, -0.08, -0.04, -0.02, -0.08, -0.14, -0.20, -0.24],
]

I_ORANGE = [-0.06, -0.068, -0.05, -0.025, -0.005, -0.002, -0.008, -0.005, -0.012, -0.025, -0.01, -0.015, -0.025,
            0.0, 0.02, 0.045, 0.03, -0.01, -0.005, -0.008, -0.012, -0.01, 0.0, 0.005, 0.0, 0.008, 0.008, 0.01, 0.008,
            0.0, -0.01, -0.02, -0.035, -0.015, 0.01, 0.015, 0.02, 0.01, 0.035, 0.025, 0.02]
I_GRAY = [
    [-0.20, -0.12, -0.06, 0.00, -0.04, -0.10, -0.36, -0.08, -0.02, 0.02, 0.00, -0.04, 0.00, 0.02, -0.02, 0.00, 0.04, 0.02, 0.00, 0.04, 0.02],
    [0.06, 0.04, 0.08, 0.14, 0.10, 0.06, 0.02, 0.00, 0.06, 0.14, 0.22, 0.12, 0.06, 0.02, 0.00, 0.02, 0.04, 0.00, 0.02, 0.06, 0.04],
    [-0.10, -0.04, 0.00, 0.04, 0.02, 0.00, -0.02, 0.02, 0.04, 0.00, -0.04, -0.02, -0.06, -0.12, -0.16, -0.10, -0.04, 0.00, 0.06, 0.20, 0.17],
    [0.00, 0.02, -0.02, 0.00, 0.04, 0.02, 0.00, 0.04, 0.02, 0.06, 0.02, 0.04, 0.00, 0.02, 0.04, 0.00, -0.02, 0.02, 0.04, 0.06, 0.08],
    [-0.14, -0.08, -0.04, -0.02, -0.06, -0.02, 0.02, -0.04, -0.02, -0.06, -0.08, -0.04, -0.02, 0.00, -0.04, -0.06, -0.02, 0.00, -0.04, -0.02, -0.06],
    [0.04, 0.00, -0.04, 0.02, 0.08, 0.12, 0.04, 0.00, 0.02, 0.06, 0.10, 0.06, 0.04, 0.08, 0.04, 0.00, 0.06, 0.08, 0.04, 0.00, 0.02],
    [-0.04, -0.06, -0.02, 0.02, -0.02, 0.00, 0.04, 0.00, -0.04, -0.02, 0.00, 0.04, 0.02, -0.02, 0.00, 0.04, 0.00, -0.04, 0.00, 0.02, 0.06],
    [0.02, -0.02, 0.00, -0.04, 0.00, 0.04, 0.00, -0.02, 0.00, 0.02, 0.06, 0.02, 0.00, 0.04, 0.08, 0.04, 0.02, 0.06, 0.02, 0.04, 0.00],
    [-0.06, -0.10, -0.06, -0.02, 0.00, -0.04, -0.06, -0.02, 0.02, 0.06, 0.02, -0.02, -0.06, -0.10, -0.06, -0.02, -0.06, -0.02, 0.02, 0.00, -0.02],
    [0.07, 0.04, 0.00, 0.06, 0.02, -0.02, 0.00, 0.04, 0.08, 0.04, 0.00, 0.02, 0.06, 0.02, 0.00, -0.04, 0.00, 0.04, 0.10, 0.06, 0.04],
    [-0.02, 0.02, 0.04, 0.00, 0.02, -0.02, 0.02, 0.04, 0.00, 0.04, 0.08, 0.04, 0.02, -0.02, 0.02, 0.04, 0.02, 0.04, 0.00, 0.02, 0.04],
    [0.02, 0.00, 0.02, 0.06, 0.02, 0.04, 0.02, -0.02, 0.02, 0.00, 0.02, -0.02, 0.02, 0.04, 0.00, -0.02, 0.02, -0.02, 0.02, 0.04, 0.00],
    [-0.08, -0.04, 0.00, -0.02, 0.02, -0.02, -0.04, 0.00, 0.04, 0.02, 0.04, 0.00, -0.04, 0.00, -0.04, -0.08, -0.04, 0.00, 0.02, 0.06, 0.02],
    [0.04, 0.06, 0.02, 0.04, 0.00, 0.04, 0.08, 0.04, 0.02, 0.04, 0.02, 0.06, 0.04, 0.00, 0.02, 0.06, 0.04, 0.00, 0.04, 0.02, 0.06],
    [-0.04, 0.00, -0.02, 0.02, 0.06, 0.02, -0.02, 0.02, 0.06, 0.10, 0.06, 0.02, 0.04, 0.00, 0.04, 0.02, -0.02, 0.02, 0.06, 0.10, 0.06],
    [0.00, -0.04, -0.02, 0.00, -0.04, 0.00, 0.02, 0.06, 0.02, -0.02, 0.00, -0.04, -0.02, 0.02, 0.06, 0.02, 0.00, 0.04, 0.00, -0.02, 0.00],
]

Y_TICKS = [0.4, 0.2, 0.0, -0.2, -0.4]
Y_TICK_TEXT = ["0.4", "0.2", "0.0", "0.2", "0.4"]

ORANGES = [A_ORANGE, B_ORANGE, C_ORANGE, D_ORANGE, E_ORANGE, F_ORANGE, G_ORANGE, H_ORANGE, I_ORANGE]
GRAYS = [A_GRAY, B_GRAY, C_GRAY, D_GRAY, E_GRAY, F_GRAY, G_GRAY, H_GRAY, I_GRAY]
TITLES = [A_TITLES, B_TITLES, C_TITLES, D_TITLES, E_TITLES, F_TITLES, G_TITLES, H_TITLES, I_TITLES]

# ---------------- layout geometry (pixels) ----------------
W, H = 648, 789
COLS = [(22, 213), (234, 426), (446, 638)]
ROWS = [(4.7, 195), (270, 461), (535.7, 726.7)]
LEG_LEFT = [85, 301.7, 509, 85, 297, 509, 89, 297, 513]
LEG_RIGHT = [209, 424, 634, 209, 422, 634, 209, 422, 634]
FONT = "Liberation Serif"
ORANGE = "#ff7417"
GRAY = "rgba(78,78,78,0.85)"


def px(x):
    return x / W


def py(y):
    return 1 - y / H


fig = go.Figure()
annotations = []
shapes = []

for k in range(9):
    r, c = divmod(k, 3)
    ax = "" if k == 0 else str(k + 1)
    xa, ya = "x" + ax, "y" + ax
    for g in GRAYS[k]:
        fig.add_trace(go.Scatter(x=GRAY_X, y=g, mode="lines", xaxis=xa, yaxis=ya,
                                 line=dict(color=GRAY, width=0.9), showlegend=False, hoverinfo="skip"))
    fig.add_trace(go.Scatter(x=ORANGE_X, y=ORANGES[k], mode="lines", xaxis=xa, yaxis=ya,
                             name=NODE_LABELS[k], line=dict(color=ORANGE, width=2), showlegend=False))

    x0, x1 = COLS[c]
    y0, y1 = ROWS[r]
    common = dict(showgrid=False, zeroline=False, showline=True, linecolor="black", linewidth=1,
                  mirror="ticks", ticks="inside", ticklen=4, tickcolor="black", tickwidth=0.8,
                  automargin=False)
    fig.update_layout(**{
        "xaxis" + ax: dict(domain=[px(x0), px(x1)], range=[0, 100], tickvals=[25, 50, 75],
                           showticklabels=False, anchor=ya, **common),
        "yaxis" + ax: dict(domain=[py(y1), py(y0)], range=[-0.542, 0.412], tickvals=Y_TICKS,
                           ticktext=Y_TICK_TEXT, showticklabels=(c == 0), anchor=xa,
                           tickfont=dict(family=FONT, size=9, color="black"), ticklabelstandoff=6,
                           **common),
    })

    # panel letter box
    annotations.append(dict(xref="paper", yref="paper", x=px(x0 + 5), y=py(y0 + 5.2),
                            xanchor="left", yanchor="top", text=LETTERS[k], showarrow=False,
                            font=dict(family=FONT, size=10, color="black"),
                            bordercolor="black", borderwidth=1, borderpad=1.2, bgcolor="white"))
    # legend box
    lt, lb = y0 + 4.6, y0 + 21.3
    ll, lr = LEG_LEFT[k], LEG_RIGHT[k]
    shapes.append(dict(type="rect", xref="paper", yref="paper", x0=px(ll), x1=px(lr), y0=py(lb), y1=py(lt),
                       line=dict(color="#333333", width=1), fillcolor="white", layer="above"))
    ym = (lt + lb) / 2
    shapes.append(dict(type="line", xref="paper", yref="paper", x0=px(ll + 5), x1=px(ll + 20),
                       y0=py(ym), y1=py(ym), line=dict(color=ORANGE, width=2), layer="above"))
    annotations.append(dict(xref="paper", yref="paper", x=px(lr - 5), y=py(ym), xanchor="right",
                            yanchor="middle", text=NODE_LABELS[k], showarrow=False,
                            font=dict(family=FONT, size=9.6, color="black")))
    # book titles
    for i, t in enumerate(TITLES[k]):
        annotations.append(dict(xref="paper", yref="paper", x=px(x0 + 0.3), y=py(y1 + 8.5 + 9.6 * i),
                                xanchor="left", yanchor="middle", text=t, showarrow=False,
                                font=dict(family=FONT, size=7.0, color="black")))

fig.update_layout(width=W, height=H, margin=dict(l=0, r=0, t=0, b=0),
                  paper_bgcolor="white", plot_bgcolor="white", showlegend=False, hovermode=False,
                  annotations=annotations, shapes=shapes, font=dict(family=FONT))
fig.write_html("out.html", config={"displayModeBar": False},
               post_script="document.body.style.margin='0px';")
